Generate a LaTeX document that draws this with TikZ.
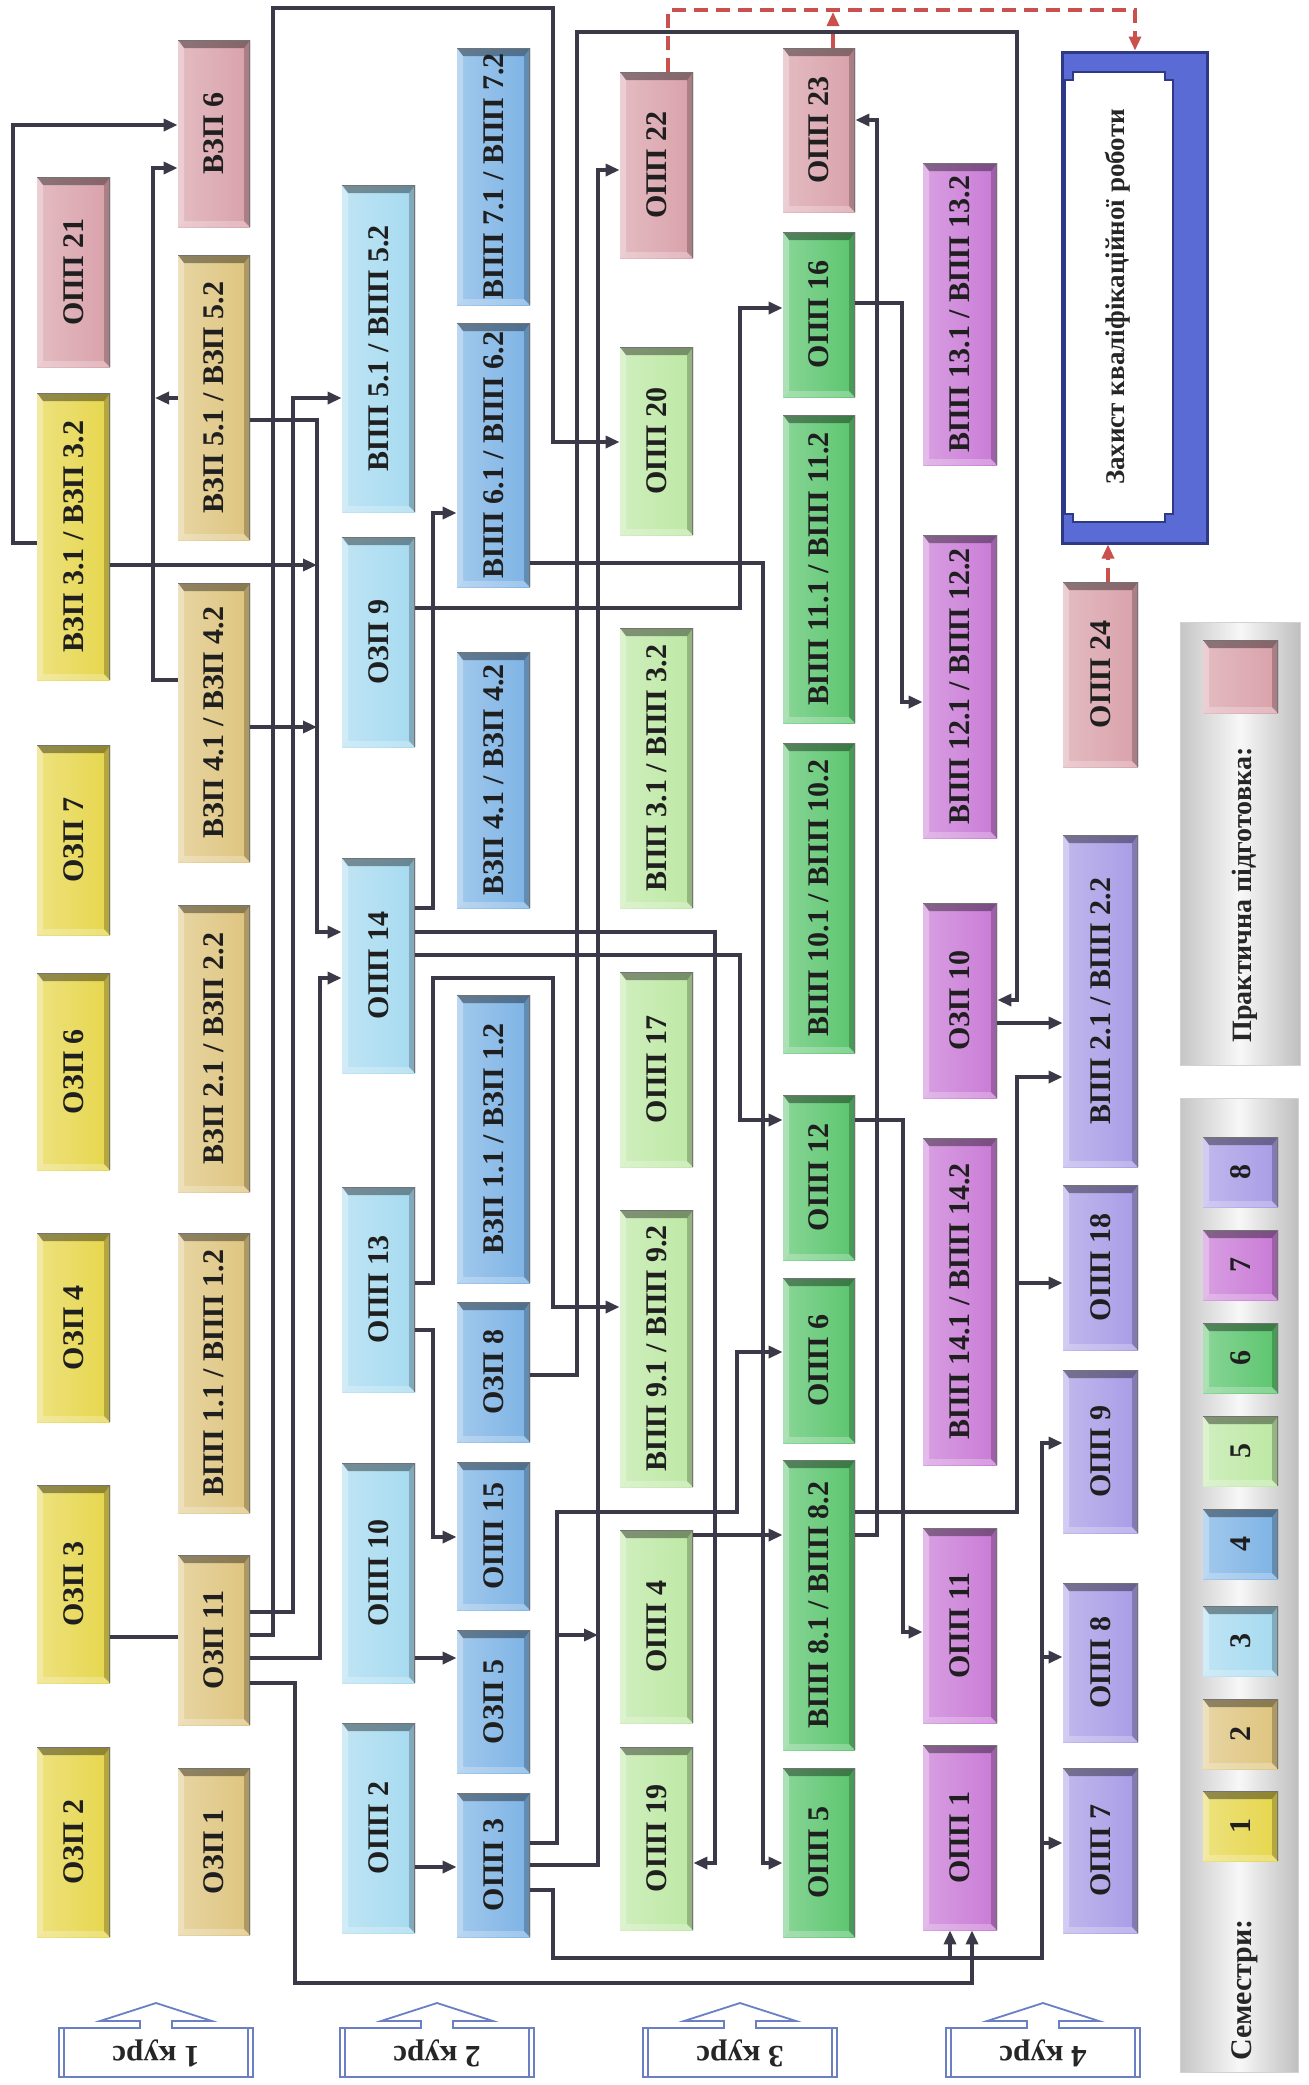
\documentclass[tikz,border=0pt]{standalone}
\usepackage{fontspec}
\setmainfont{Liberation Serif}
\usepackage{graphicx}
\usetikzlibrary{arrows.meta,calc}
\definecolor{sA}{HTML}{E6D64C}
\definecolor{sB}{HTML}{DEC47E}
\definecolor{sC}{HTML}{A6DAF0}
\definecolor{sD}{HTML}{7DB3E5}
\definecolor{sE}{HTML}{BDE8A4}
\definecolor{sF}{HTML}{5BC56E}
\definecolor{sG}{HTML}{C97AD6}
\definecolor{sH}{HTML}{A89CE6}
\definecolor{sP}{HTML}{D9A1AA}
\definecolor{lnc}{HTML}{3B3947}
\definecolor{redc}{HTML}{C9504D}
\definecolor{zb}{HTML}{5B6BD6}
\definecolor{zn}{HTML}{2E3A86}
\definecolor{kl}{HTML}{6A7FC4}
\newcommand\boxfont{\fontsize{15}{15}\selectfont\bfseries}
\newcommand\drawbox[7]{\node[box=#6, minimum width={(#4-#2)*0.5pt}, minimum height={(#5-#3)*0.5pt}] (#1) at ({(#2+#4)/2},{(#3+#5)/2}) {\rotatebox{90}{#7}};}
\newcommand\drawkurs[3]{%
 \draw[kline] ({#2-16},2028) -- ({#2-97},2028) -- ({#2-97},2077) -- ({#2+97},2077) -- ({#2+97},2028) -- ({#2+16},2028) -- ({#2+16},2021) -- ({#2+56},2021) -- (#2,2003) -- ({#2-56},2021) -- ({#2-16},2021) -- cycle;
 \draw[kline] ({#2-92},2028) -- ({#2-92},2077) ({#2+92},2028) -- ({#2+92},2077);
 \node[rotate=180, font=\fontsize{15.5}{15.5}\selectfont\bfseries, text=black!85] (#1) at (#2,2053) {#3};}
\tikzset{
 box/.style={rectangle, inner sep=0pt, left color=#1!72!white, right color=#1, text=black!88, font=\boxfont,
   path picture={
     \path (path picture bounding box.north west) coordinate (pa)
           (path picture bounding box.south east) coordinate (pb);
     \path (pa -| pb) coordinate (pc) (pa |- pb) coordinate (pd);
     \fill[black, opacity=.38] (pa) -- (pc) -- ([shift={(-3pt,-4pt)}]pc) -- ([shift={(3pt,-4pt)}]pa) -- cycle;
     \fill[black, opacity=.22] (pc) -- (pb) -- ([shift={(-3pt,3pt)}]pb) -- ([shift={(-3pt,-4pt)}]pc) -- cycle;
     \fill[white, opacity=.3] (pa) -- ([shift={(3pt,-4pt)}]pa) -- ([shift={(3pt,3pt)}]pd) -- (pd) -- cycle;
     \fill[white, opacity=.25] (pd) -- (pb) -- ([shift={(-3pt,3pt)}]pb) -- ([shift={(3pt,3pt)}]pd) -- cycle;
     \draw[black!55, line width=1pt] (pa) -- (pc) -- (pb);
   }},
 conn/.style={draw=lnc, line width=1.7pt},
 arr/.style={-{Triangle[length=7pt,width=6pt]}},
 reddash/.style={draw=redc, line width=1.6pt, dash pattern=on 7pt off 4pt},
 kline/.style={draw=kl, line width=0.9pt},
 panel/.style={rectangle, inner sep=0pt, draw=gray!35, left color=gray!45, right color=gray!50, middle color=gray!6},
}
\begin{document}
\begin{tikzpicture}[x=0.5pt,y=-0.5pt]
\fill[white] (0,0) rectangle (1309,2085);
\useasboundingbox (0,0) rectangle (1309,2085);
% column 1
\drawbox{o21}{37}{177}{110}{367}{sP}{ОПП 21}
\drawbox{v31}{37}{393}{110}{680}{sA}{ВЗП 3.1 / ВЗП 3.2}
\drawbox{oz7}{37}{745}{110}{935}{sA}{ОЗП 7}
\drawbox{oz6}{37}{973}{110}{1170}{sA}{ОЗП 6}
\drawbox{oz4}{37}{1233}{110}{1422}{sA}{ОЗП 4}
\drawbox{oz3}{37}{1485}{110}{1683}{sA}{ОЗП 3}
\drawbox{oz2}{37}{1747}{110}{1937}{sA}{ОЗП 2}
% column 2
\drawbox{vz6}{178}{40}{250}{227}{sP}{ВЗП 6}
\drawbox{vz5}{178}{255}{250}{540}{sB}{ВЗП 5.1 / ВЗП 5.2}
\drawbox{vz4}{178}{583}{250}{862}{sB}{ВЗП 4.1 / ВЗП 4.2}
\drawbox{vz2}{178}{905}{250}{1192}{sB}{ВЗП 2.1 / ВЗП 2.2}
\drawbox{vp1}{178}{1233}{250}{1513}{sB}{ВПП 1.1 / ВПП 1.2}
\drawbox{oz11}{178}{1555}{250}{1725}{sB}{ОЗП 11}
\drawbox{oz1}{178}{1768}{250}{1935}{sB}{ОЗП 1}
% column 3
\drawbox{vp5}{342}{185}{415}{512}{sC}{ВПП 5.1 / ВПП 5.2}
\drawbox{oz9}{342}{537}{415}{747}{sC}{ОЗП 9}
\drawbox{op14}{342}{858}{415}{1073}{sC}{ОПП 14}
\drawbox{op13}{342}{1187}{415}{1392}{sC}{ОПП 13}
\drawbox{op10}{342}{1463}{415}{1683}{sC}{ОПП 10}
\drawbox{op2}{342}{1723}{415}{1933}{sC}{ОПП 2}
% column 4
\drawbox{vp7}{457}{48}{530}{305}{sD}{ВПП 7.1 / ВПП 7.2}
\drawbox{vp6}{457}{323}{530}{587}{sD}{ВПП 6.1 / ВПП 6.2}
\drawbox{vz4b}{457}{652}{530}{908}{sD}{ВЗП 4.1 / ВЗП 4.2}
\drawbox{vz1}{457}{995}{530}{1283}{sD}{ВЗП 1.1 / ВЗП 1.2}
\drawbox{oz8}{457}{1302}{530}{1442}{sD}{ОЗП 8}
\drawbox{op15}{457}{1462}{530}{1610}{sD}{ОПП 15}
\drawbox{oz5}{457}{1630}{530}{1773}{sD}{ОЗП 5}
\drawbox{op3}{457}{1793}{530}{1937}{sD}{ОПП 3}
% column 5
\drawbox{op22}{620}{72}{693}{258}{sP}{ОПП 22}
\drawbox{op20}{620}{347}{693}{535}{sE}{ОПП 20}
\drawbox{vp3}{620}{628}{693}{908}{sE}{ВПП 3.1 / ВПП 3.2}
\drawbox{op17}{620}{972}{693}{1167}{sE}{ОПП 17}
\drawbox{vp9}{620}{1210}{693}{1487}{sE}{ВПП 9.1 / ВПП 9.2}
\drawbox{op4}{620}{1530}{693}{1723}{sE}{ОПП 4}
\drawbox{op19}{620}{1747}{693}{1930}{sE}{ОПП 19}
% column 6
\drawbox{op23}{783}{48}{855}{212}{sP}{ОПП 23}
\drawbox{op16}{783}{232}{855}{397}{sF}{ОПП 16}
\drawbox{vp11}{783}{415}{855}{723}{sF}{ВПП 11.1 / ВПП 11.2}
\drawbox{vp10}{783}{743}{855}{1053}{sF}{ВПП 10.1 / ВПП 10.2}
\drawbox{op12}{783}{1095}{855}{1260}{sF}{ОПП 12}
\drawbox{op6}{783}{1278}{855}{1443}{sF}{ОПП 6}
\drawbox{vp8}{783}{1460}{855}{1750}{sF}{ВПП 8.1 / ВПП 8.2}
\drawbox{op5}{783}{1768}{855}{1937}{sF}{ОПП 5}
% column 7
\drawbox{vp13}{923}{163}{997}{465}{sG}{ВПП 13.1 / ВПП 13.2}
\drawbox{vp12}{923}{535}{997}{838}{sG}{ВПП 12.1 / ВПП 12.2}
\drawbox{oz10}{923}{903}{997}{1098}{sG}{ОЗП 10}
\drawbox{vp14}{923}{1138}{997}{1465}{sG}{ВПП 14.1 / ВПП 14.2}
\drawbox{op11}{923}{1528}{997}{1723}{sG}{ОПП 11}
\drawbox{op1}{923}{1745}{997}{1930}{sG}{ОПП 1}
% column 8
\node[draw=zn, line width=1.5pt, fill=zb, minimum width=72.5pt, minimum height=245.5pt, inner sep=0pt] (zakh) at (1134.5,297.5) {};
\draw[zn, line width=1pt, fill=white] (1065,80) -- (1073,80) -- (1073,72) -- (1165,72) -- (1165,80) -- (1173,80) -- (1173,514) -- (1165,514) -- (1165,522) -- (1073,522) -- (1073,514) -- (1065,514) -- cycle;
\node[font=\fontsize{13.5}{13.5}\selectfont\bfseries, text=black!85] (zakht) at (1118,297) {\rotatebox{90}{Захист кваліфікаційної роботи}};
\drawbox{op24}{1063}{582}{1138}{767}{sP}{ОПП 24}
\drawbox{vp2}{1063}{835}{1138}{1167}{sH}{ВПП 2.1 / ВПП 2.2}
\drawbox{op18}{1063}{1185}{1138}{1350}{sH}{ОПП 18}
\drawbox{op9}{1063}{1370}{1138}{1533}{sH}{ОПП 9}
\drawbox{op8}{1063}{1583}{1138}{1742}{sH}{ОПП 8}
\drawbox{op7}{1063}{1768}{1138}{1933}{sH}{ОПП 7}
% legend
\node[panel, minimum width=60pt, minimum height=221.5pt] (lp1) at (1240,843.5) {};
\drawbox{lgp}{1203}{640}{1278}{713}{sP}{}
\node[font=\fontsize{14}{14}\selectfont\bfseries, text=black!85] (lpt) at (1245,895) {\rotatebox{90}{Практична підготовка:}};
\node[panel, minimum width=59pt, minimum height=487pt] (lp2) at (1239,1585) {};
\drawbox{lg8}{1203}{1137}{1278}{1207}{sH}{8}
\drawbox{lg7}{1203}{1230}{1278}{1300}{sG}{7}
\drawbox{lg6}{1203}{1323}{1278}{1393}{sF}{6}
\drawbox{lg5}{1203}{1416}{1278}{1486}{sE}{5}
\drawbox{lg4}{1203}{1509}{1278}{1579}{sD}{4}
\drawbox{lg3}{1203}{1606}{1278}{1676}{sC}{3}
\drawbox{lg2}{1203}{1699}{1278}{1769}{sB}{2}
\drawbox{lg1}{1203}{1791}{1278}{1861}{sA}{1}
\node[font=\fontsize{15}{15}\selectfont\bfseries, text=black!85] (lst) at (1245,1990) {\rotatebox{90}{Семестри:}};
% course labels
\drawkurs{k1}{156}{1 курс}
\drawkurs{k2}{437}{2 курс}
\drawkurs{k3}{740}{3 курс}
\drawkurs{k4}{1043}{4 курс}
% connectors
\draw[conn,arr] (v31.west |- 0,543) -- (13,543) -- (13,125) -- (vz6.west |- 0,125);
\draw[conn,arr] (vz4.west |- 0,680) -- (153,680) -- (153,168) -- (vz6.west |- 0,168);
\draw[conn,arr] (vz5.west |- 0,398) -- (155,398);
\draw[conn,arr] (v31.east |- 0,565) -- (317,565);
\draw[conn,arr] (vz4.east |- 0,727) -- (317,727);
\draw[conn,arr] (vz5.east |- 0,420) -- (317,420) -- (317,932) -- (op14.west |- 0,932);
\draw[conn,arr] (oz11.east |- 0,1612) -- (293,1612) -- (293,398) -- (vp5.west |- 0,398);
\draw[conn,arr] (oz11.east |- 0,1635) -- (273,1635) -- (273,8) -- (553,8) -- (553,442) -- (op20.west |- 0,442);
\draw[conn,arr] (oz11.east |- 0,1658) -- (320,1658) -- (320,978) -- (op14.west |- 0,978);
\draw[conn,arr] (oz11.east |- 0,1683) -- (295,1683) -- (295,1983) -- (972,1983) -- (op1.south -| 972,0);
\draw[conn] (oz3.east |- 0,1637) -- (oz11.west |- 0,1637);
\draw[conn,arr] (oz9.east |- 0,608) -- (740,608) -- (740,308) -- (op16.west |- 0,308);
\draw[conn,arr] (op14.east |- 0,908) -- (433,908) -- (433,513) -- (vp6.west |- 0,513);
\draw[conn,arr] (vp6.east |- 0,563) -- (763,563) -- (763,1863) -- (op5.west |- 0,1863);
\draw[conn,arr] (op14.east |- 0,932) -- (715,932) -- (715,1863) -- (op19.east |- 0,1863);
\draw[conn,arr] (op14.east |- 0,955) -- (740,955) -- (740,1120) -- (op12.west |- 0,1120);
\draw[conn,arr] (op13.east |- 0,1283) -- (433,1283) -- (433,978) -- (553,978) -- (553,1307) -- (vp9.west |- 0,1307);
\draw[conn,arr] (op13.east |- 0,1330) -- (433,1330) -- (433,1537) -- (op15.west |- 0,1537);
\draw[conn,arr] (oz8.east |- 0,1375) -- (577,1375) -- (577,32) -- (1017,32) -- (1017,1000) -- (oz10.east |- 0,1000);
\draw[conn,arr] (op3.east |- 0,1843) -- (557,1843) -- (557,1512) -- (737,1512) -- (737,1352) -- (op6.west |- 0,1352);
\coordinate (j1) at (557,1635);
\draw[conn,arr] (j1) -- (598,1635);
\draw[conn,arr] (op3.east |- 0,1865) -- (598,1865) -- (598,170) -- (op22.west |- 0,170);
\draw[conn,arr] (op3.east |- 0,1890) -- (553,1890) -- (553,1958) -- (1042,1958) -- (1042,1443) -- (op9.west |- 0,1443);
\coordinate (j2) at (950,1958);
\coordinate (j3) at (1042,1843);
\coordinate (j4) at (1042,1657);
\draw[conn,arr] (j2) -- (op1.south -| 950,0);
\draw[conn,arr] (j3) -- (op7.west |- 0,1843);
\draw[conn,arr] (j4) -- (op8.west |- 0,1657);
\draw[conn,arr] (op10.east |- 0,1658) -- (oz5.west |- 0,1658);
\draw[conn,arr] (op2.east |- 0,1867) -- (op3.west |- 0,1867);
\draw[conn,arr] (op4.east |- 0,1535) -- (vp8.west |- 0,1535);
\draw[conn,arr] (vp8.east |- 0,1535) -- (877,1535) -- (877,120) -- (op23.east |- 0,120);
\draw[conn,arr] (vp8.east |- 0,1512) -- (1017,1512) -- (1017,1077) -- (vp2.west |- 0,1077);
\coordinate (j5) at (1017,1283);
\draw[conn,arr] (j5) -- (op18.west |- 0,1283);
\draw[conn,arr] (oz10.east |- 0,1023) -- (vp2.west |- 0,1023);
\draw[conn,arr] (op12.east |- 0,1120) -- (903,1120) -- (903,1632) -- (op11.west |- 0,1632);
\draw[conn,arr] (op16.east |- 0,303) -- (902,303) -- (902,702) -- (vp12.west |- 0,702);
% red dashed
\draw[reddash,arr] (op22.north -| 668,0) -- (668,10) -- (1135,10) -- (zakh.north -| 1135,0);
\draw[reddash,arr] (op23.north -| 833,0) -- (833,12);
\draw[reddash,arr] (op24.north -| 1108,0) -- (zakh.south -| 1108,0);
\end{tikzpicture}
\end{document}
